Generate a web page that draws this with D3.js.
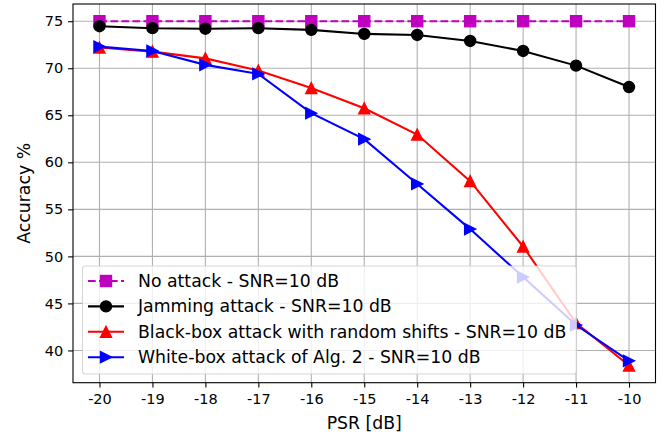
<!DOCTYPE html>
<html><head><meta charset="utf-8">
<script src="https://cdn.jsdelivr.net/npm/d3@7"></script>
<style>body{margin:0;background:#fff}svg{display:block}text{font-family:"DejaVu Sans",sans-serif}</style>
</head><body>
<svg id="c" width="672" height="438"></svg>
<script>
const psr = [-20,-19,-18,-17,-16,-15,-14,-13,-12,-11,-10];
const noAttack = [75,75,75,75,75,75,75,75,75,75,75];
const jamming = [74.47,74.26,74.2,74.26,74.08,73.65,73.54,72.9,71.84,70.28,68.0];
const blackBox = [72.2,71.77,71.05,69.75,67.9,65.75,62.95,58.0,51.05,42.9,38.4];
const whiteBox = [72.3,71.84,70.36,69.4,65.22,62.46,57.7,52.9,47.8,42.7,38.9];
const yTicks = [40,45,50,55,60,65,70,75];
const seriesNames = ["No attack - SNR=10 dB","Jamming attack - SNR=10 dB","Black-box attack with random shifts - SNR=10 dB","White-box attack of Alg. 2 - SNR=10 dB"];

const svg = d3.select("#c");
const L=73, R=655.5, T=4, B=382.7;
const x = d3.scaleLinear().domain([-20.5,-9.5]).range([L,R]);
const y = d3.scaleLinear().domain([36.57,76.83]).range([B,T]);
const fsTick = 14.5, fsLab = 17.3;

// grid
const g = svg.append("g");
g.selectAll(".gx").data(psr).enter().append("line")
 .attr("x1",d=>x(d)).attr("x2",d=>x(d)).attr("y1",T).attr("y2",B)
 .attr("stroke","#b0b0b0").attr("stroke-width",1.1);
g.selectAll(".gy").data(yTicks).enter().append("line")
 .attr("y1",d=>y(d)).attr("y2",d=>y(d)).attr("x1",L).attr("x2",R)
 .attr("stroke","#b0b0b0").attr("stroke-width",1.1);

// axes
const xa = svg.append("g").attr("transform",`translate(0,${B})`)
 .call(d3.axisBottom(x).tickValues(psr).tickSize(4.9).tickPadding(5).tickFormat(d=>String(d)));
const ya = svg.append("g").attr("transform",`translate(${L},0)`)
 .call(d3.axisLeft(y).tickValues(yTicks).tickSize(4.9).tickPadding(5));
[xa,ya].forEach(a=>{a.select(".domain").remove();
 a.selectAll("text").attr("font-size",fsTick).attr("fill","#000").style("font-family","DejaVu Sans");
 a.selectAll("line").attr("stroke","#000").attr("stroke-width",1.1);});
xa.selectAll("text").attr("dy","0.8em");

// series
const data = [
 {vals:noAttack,color:"#bf00bf",marker:"square",dash:"7.7,3.3"},
 {vals:jamming,color:"#000000",marker:"circle",dash:null},
 {vals:blackBox,color:"#ff0000",marker:"triangle",dash:null},
 {vals:whiteBox,color:"#0000ff",marker:"right",dash:null}
];
const line = d3.line().x((d,i)=>x(psr[i])).y(d=>y(d));
const h = 5.55;
function drawMarker(sel, type, color){
 let m;
 if(type==="square") m = sel.append("rect").attr("x",-h).attr("y",-h).attr("width",2*h).attr("height",2*h);
 else if(type==="circle") m = sel.append("circle").attr("r",h);
 else if(type==="triangle") m = sel.append("path").attr("d",`M0,${-h}L${h},${h}L${-h},${h}Z`);
 else m = sel.append("path").attr("d",`M${h},0L${-h},${-h}L${-h},${h}Z`);
 m.attr("fill",color).attr("stroke",color).attr("stroke-width",1.3).attr("stroke-linejoin","miter");
}
const plot = svg.append("g");
data.forEach(s=>{
 plot.append("path").datum(s.vals).attr("d",line).attr("fill","none")
  .attr("stroke",s.color).attr("stroke-width",2.08).attr("stroke-dasharray",s.dash);
 s.vals.forEach((v,i)=>{
  const m = plot.append("g").attr("transform",`translate(${x(psr[i])},${y(v)})`);
  drawMarker(m,s.marker,s.color);
 });
});

// spines
svg.append("rect").attr("x",L).attr("y",T).attr("width",R-L).attr("height",B-T)
 .attr("fill","none").attr("stroke","#000").attr("stroke-width",1.1);

// legend
const lg = svg.append("g");
lg.append("rect").attr("x",82.5).attr("y",266).attr("width",494).attr("height",108).attr("rx",3)
 .attr("fill","#fff").attr("fill-opacity",0.8).attr("stroke","#cccccc").attr("stroke-opacity",0.8).attr("stroke-width",1.1);
data.forEach((s,i)=>{
 const yy = 281 + i*25.4;
 lg.append("line").attr("x1",88).attr("x2",124).attr("y1",yy).attr("y2",yy)
  .attr("stroke",s.color).attr("stroke-width",2.08).attr("stroke-dasharray",s.dash);
 const m = lg.append("g").attr("transform",`translate(106,${yy})`);
 drawMarker(m,s.marker,s.color);
 lg.append("text").attr("x",138).attr("y",yy).attr("dy","0.35em").attr("font-size",fsLab).text(seriesNames[i]);
});

// labels
svg.append("text").attr("x",(L+R)/2).attr("y",429).attr("text-anchor","middle").attr("font-size",fsLab).text("PSR [dB]");
svg.append("text").attr("transform",`translate(23.5,${(T+B)/2}) rotate(-90)`).attr("dy","0.35em").attr("text-anchor","middle").attr("font-size",fsLab).text("Accuracy %");
</script>
</body></html>
